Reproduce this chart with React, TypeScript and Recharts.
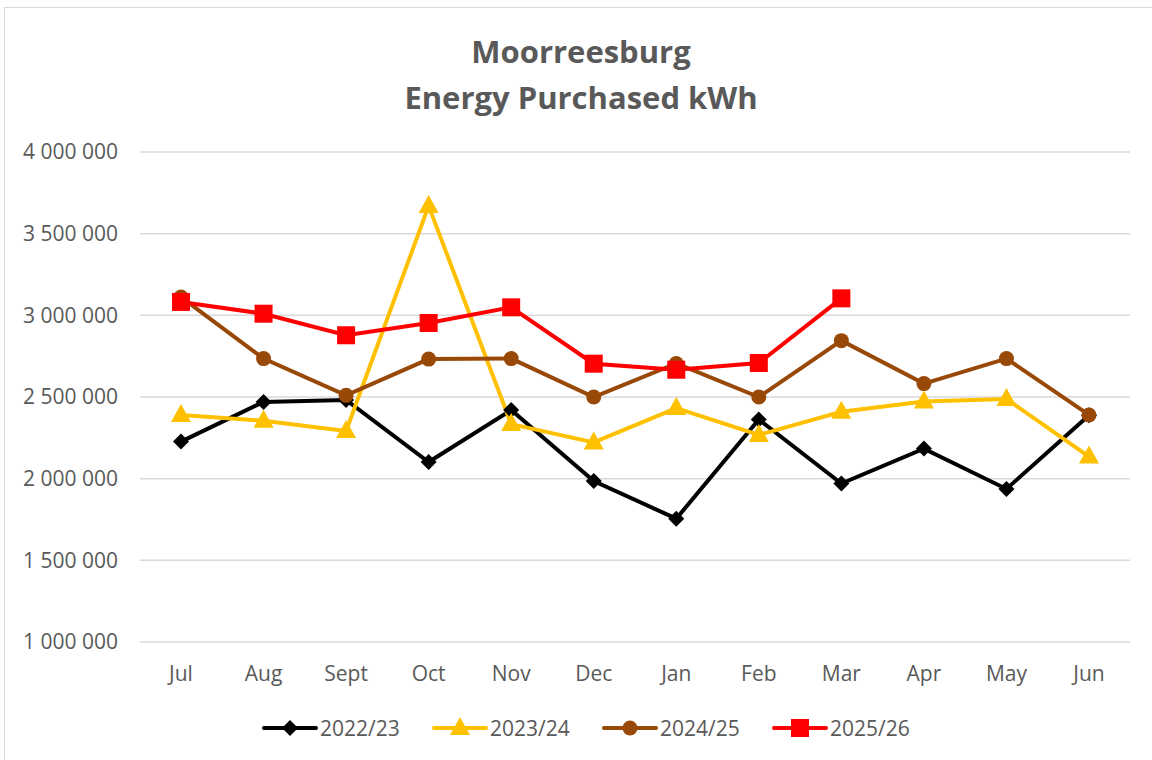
import React from "react";
import { LineChart, Line, XAxis, YAxis, CartesianGrid } from "recharts";

// Moorreesburg energy purchased (kWh)

const months = ["Jul", "Aug", "Sept", "Oct", "Nov", "Dec", "Jan", "Feb", "Mar", "Apr", "May", "Jun"];

const fy2223 = [2227000, 2470000, 2482000, 2102000, 2420000, 1986000, 1755000, 2362000, 1970000, 2184000, 1937000, 2388000];
const fy2324 = [2390000, 2355000, 2292000, 3670000, 2334000, 2222000, 2432000, 2268000, 2410000, 2472000, 2488000, 2135000];
const fy2425 = [3112000, 2735000, 2510000, 2732000, 2735000, 2500000, 2705000, 2500000, 2845000, 2582000, 2735000, 2390000];
const fy2526 = [3082000, 3010000, 2878000, 2953000, 3049000, 2704000, 2667000, 2708000, 3104000, null, null, null];

const yTicks = [1000000, 1500000, 2000000, 2500000, 3000000, 3500000, 4000000];

const TEXT = "#595959";
const FONT = "'Open Sans', 'Noto Sans', sans-serif";

const data = months.map((m, i) => ({
  month: m,
  "2022/23": fy2223[i],
  "2023/24": fy2324[i],
  "2024/25": fy2425[i],
  "2025/26": fy2526[i],
}));

type Shape = "diamond" | "triangle" | "circle" | "square";

const series: { key: string; color: string; shape: Shape }[] = [
  { key: "2022/23", color: "#000000", shape: "diamond" },
  { key: "2023/24", color: "#FFC000", shape: "triangle" },
  { key: "2024/25", color: "#984807", shape: "circle" },
  { key: "2025/26", color: "#FF0000", shape: "square" },
];

function Marker({ shape, cx, cy, color }: { shape: Shape; cx: number; cy: number; color: string }) {
  if (shape === "diamond") {
    const r = 8;
    return <polygon points={`${cx},${cy - r} ${cx + r},${cy} ${cx},${cy + r} ${cx - r},${cy}`} fill={color} />;
  }
  if (shape === "triangle") {
    return <polygon points={`${cx},${cy - 11} ${cx + 10},${cy + 7} ${cx - 10},${cy + 7}`} fill={color} />;
  }
  if (shape === "circle") {
    return <circle cx={cx} cy={cy} r={7.5} fill={color} />;
  }
  return <rect x={cx - 9} y={cy - 9} width={18} height={18} fill={color} />;
}

const fmt = (v: number) => v.toLocaleString("en-US").replace(/,/g, " ");

export default function App() {
  return (
    <div style={{ position: "absolute", left: 0, top: 0, width: 1152, height: 760, background: "#fff", overflow: "hidden", fontFamily: FONT }}>
      <div style={{ position: "absolute", left: 4, top: 7, width: 1200, height: 800, border: "1.5px solid #d9d9d9" }} />
      <div
        style={{
          position: "absolute",
          left: 0,
          width: 1162,
          top: 28,
          textAlign: "center",
          fontWeight: 700,
          fontSize: 31,
          lineHeight: "46px",
          color: TEXT,
        }}
      >
        Moorreesburg
        <br />
        Energy Purchased kWh
      </div>
      <div style={{ position: "absolute", left: 0, top: 0 }}>
        <LineChart width={1152} height={760} data={data} margin={{ top: 152, right: 22, bottom: 88, left: 0 }}>
          <CartesianGrid vertical={false} stroke="#d9d9d9" strokeWidth={1.5} />
          <XAxis
            dataKey="month"
            height={30}
            axisLine={false}
            tickLine={false}
            tickSize={0}
            tickMargin={24}
            padding={{ left: 41, right: 41 }}
            tick={{ fontSize: 21, fill: TEXT, fontFamily: FONT }}
            interval={0}
          />
          <YAxis
            domain={[1000000, 4000000]}
            ticks={yTicks}
            width={140}
            axisLine={false}
            tickLine={false}
            tickSize={0}
            tickMargin={22}
            tickFormatter={fmt}
            tick={{ fontSize: 21, fill: TEXT, fontFamily: FONT }}
          />
          {series.map((s) => (
            <Line
              key={s.key}
              dataKey={s.key}
              type="linear"
              stroke={s.color}
              strokeWidth={4}
              isAnimationActive={false}
              dot={(p: any) =>
                p.value == null || p.cy == null ? (
                  <g key={`${s.key}-${p.index}`} />
                ) : (
                  <Marker key={`${s.key}-${p.index}`} shape={s.shape} cx={p.cx} cy={p.cy} color={s.color} />
                )
              }
            />
          ))}
        </LineChart>
      </div>
      {/* legend */}
      <div style={{ position: "absolute", left: 262, top: 714, display: "flex", alignItems: "center" }}>
        {series.map((s) => (
          <div key={s.key} style={{ display: "flex", alignItems: "center", width: 170 }}>
            <svg width={56} height={26}>
              <line x1={2} y1={13} x2={54} y2={13} stroke={s.color} strokeWidth={4} strokeLinecap="round" />
              <Marker shape={s.shape} cx={28} cy={13} color={s.color} />
            </svg>
            <span style={{ fontSize: 21, color: TEXT, marginLeft: 2 }}>{s.key}</span>
          </div>
        ))}
      </div>
    </div>
  );
}
